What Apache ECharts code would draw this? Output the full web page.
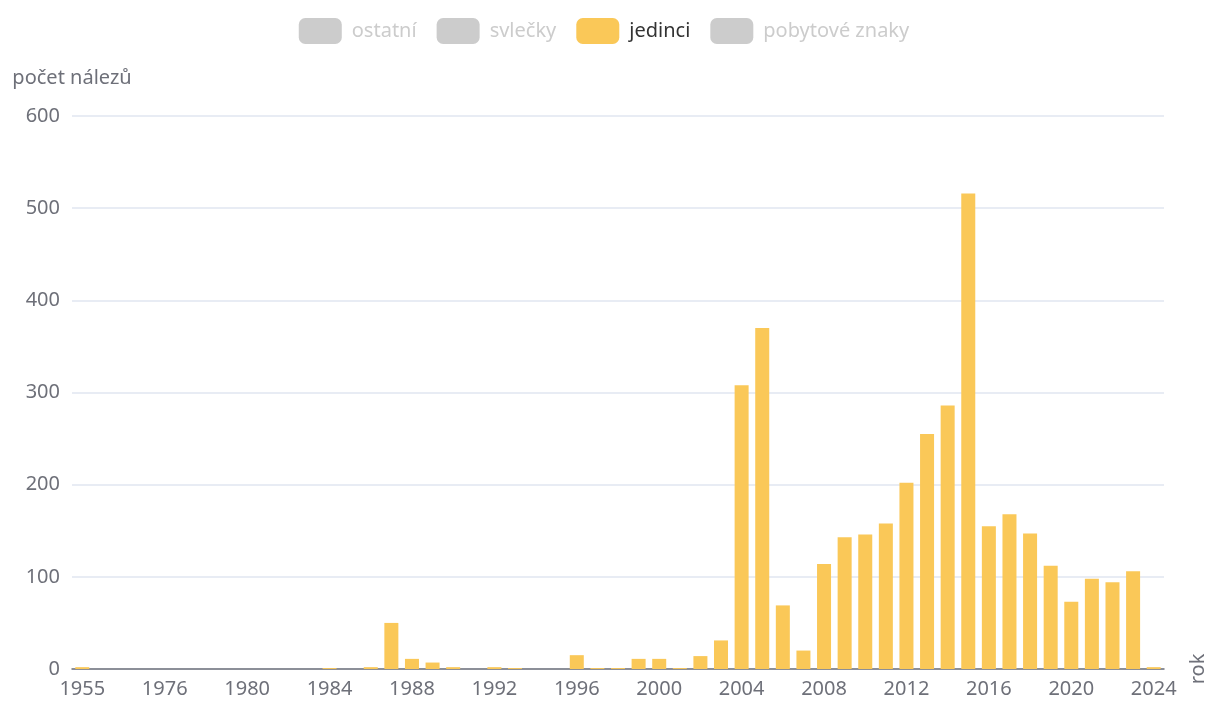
<!DOCTYPE html>
<html>
<head>
<meta charset="utf-8">
<script src="https://cdn.jsdelivr.net/npm/echarts@6/dist/echarts.min.js"></script>
<style>
html,body{margin:0;padding:0;background:#fff;}
#chart{width:1208px;height:704px;}
</style>
</head>
<body>
<div id="chart"></div>
<script>
// Categories (years); indices 1-3 are hidden-label years between 1955 and 1976 (estimated)
const years = ['1955','1961','1968','1973','1976','1977','1978','1979','1980','1981','1982','1983','1984','1985','1986','1987','1988','1989','1990','1991','1992','1993','1994','1995','1996','1997','1998','1999','2000','2001','2002','2003','2004','2005','2006','2007','2008','2009','2010','2011','2012','2013','2014','2015','2016','2017','2018','2019','2020','2021','2022','2023','2024'];

const jedinci = [2,0,0,0,0,0,0,0,0,0,0,0,1,0,2,50,11,7,2,0,2,1,0,0,15,1,1,11,11,1,14,31,308,370,69,20,114,143,146,158,202,255,286,516,155,168,147,112,73,98,94,106,2];
const ostatni = [];
const svlecky = [];
const pobytoveZnaky = [];

const seriesNames = ['ostatní','svlečky','jedinci','pobytové znaky'];
const yTicks = {min:0, max:600, interval:100};

const FONT = 'Noto Sans';
const chart = echarts.init(document.getElementById('chart'));
const mk = (name, data) => ({
  name, type:'bar', stack:'total',
  data: data.map(v => v === 0 ? '-' : v),
  barWidth:'68%'
});
chart.setOption({
  animation:false,
  textStyle:{fontFamily:FONT},
  color:['#5470c6','#91cc75','#fac858','#ee6666'],
  legend:{
    top:13, left:'center',
    icon:'roundRect', itemWidth:43, itemHeight:26, itemGap:20,
    inactiveColor:'#ccc', inactiveBorderColor:'#ccc',
    textStyle:{fontSize:20, color:'#333', fontFamily:FONT, padding:[0,0,0,5]},
    data:seriesNames,
    selected:{'ostatní':false,'svlečky':false,'jedinci':true,'pobytové znaky':false}
  },
  grid:{left:72, right:43, top:116, bottom:35, containLabel:false},
  xAxis:{
    type:'category', data:years,
    name:'rok', nameRotate:90, nameGap:24,
    nameTextStyle:{fontSize:20, color:'#6E7079', fontFamily:FONT},
    axisLine:{lineStyle:{color:'#6E7079', width:1.5}},
    axisTick:{length:8, interval:3, lineStyle:{color:'#6E7079', width:1.5}},
    axisLabel:{interval:3, fontSize:20, margin:10, color:'#6E7079', fontFamily:FONT}
  },
  yAxis:{
    type:'value', min:yTicks.min, max:yTicks.max, interval:yTicks.interval,
    name:'počet nálezů', nameGap:28,
    nameTextStyle:{fontSize:20, color:'#6E7079', fontFamily:FONT},
    axisLabel:{fontSize:20, margin:12, color:'#6E7079', fontFamily:FONT},
    splitLine:{lineStyle:{color:'#E0E6F1', width:1.5}}
  },
  series:[mk('ostatní', ostatni), mk('svlečky', svlecky), mk('jedinci', jedinci), mk('pobytové znaky', pobytoveZnaky)]
});
</script>
</body>
</html>
